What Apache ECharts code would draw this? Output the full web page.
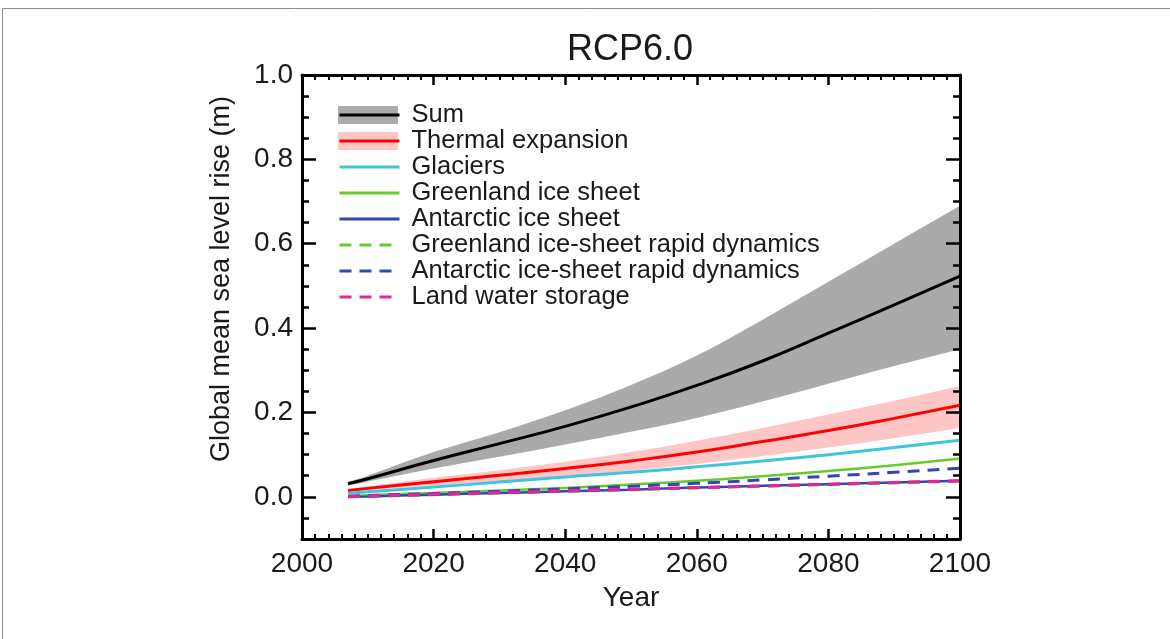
<!DOCTYPE html>
<html>
<head>
<meta charset="utf-8">
<script src="https://cdn.jsdelivr.net/npm/echarts@6/dist/echarts.min.js"></script>
<style>
  html, body { margin: 0; padding: 0; background: #fff; }
  #chart { width: 1170px; height: 639px; }
</style>
</head>
<body>
<div id="chart"></div>
<script>
// ---- data ----
const years = [2007, 2010, 2020, 2030, 2040, 2050, 2060, 2070, 2080, 2090, 2100];
const sumMid = [0.031, 0.043, 0.086, 0.126, 0.167, 0.213, 0.264, 0.322, 0.388, 0.455, 0.523];
const sumHigh = [0.036, 0.050, 0.106, 0.153, 0.205, 0.265, 0.335, 0.420, 0.510, 0.600, 0.690];
const sumLow = [0.027, 0.036, 0.067, 0.095, 0.124, 0.154, 0.187, 0.226, 0.268, 0.310, 0.350];
const thermalMid = [0.015, 0.020, 0.036, 0.051, 0.067, 0.085, 0.106, 0.131, 0.157, 0.186, 0.217];
const thermalHigh = [0.018, 0.025, 0.045, 0.063, 0.083, 0.106, 0.133, 0.163, 0.195, 0.228, 0.263];
const thermalLow = [0.012, 0.016, 0.027, 0.037, 0.049, 0.062, 0.078, 0.097, 0.117, 0.139, 0.163];
const glaciers = [0.008, 0.012, 0.023, 0.035, 0.047, 0.058, 0.071, 0.085, 0.100, 0.117, 0.134];
const greenlandSheet = [0.002, 0.004, 0.009, 0.015, 0.021, 0.029, 0.038, 0.049, 0.061, 0.075, 0.091];
const antarcticSheet = [0.000, 0.001, 0.005, 0.009, 0.013, 0.017, 0.022, 0.026, 0.030, 0.034, 0.038];
const greenlandDyn = [0.000, 0.001, 0.005, 0.009, 0.013, 0.017, 0.021, 0.025, 0.029, 0.033, 0.037];
const antarcticDyn = [0.001, 0.003, 0.008, 0.013, 0.019, 0.025, 0.032, 0.040, 0.049, 0.058, 0.068];
const landWater = [0.000, 0.002, 0.006, 0.010, 0.014, 0.018, 0.022, 0.026, 0.030, 0.034, 0.038];
const yMajorTicks = [0.0, 0.2, 0.4, 0.6, 0.8, 1.0];
const legendNames = ['Sum', 'Thermal expansion', 'Glaciers', 'Greenland ice sheet', 'Antarctic ice sheet',
  'Greenland ice-sheet rapid dynamics', 'Antarctic ice-sheet rapid dynamics', 'Land water storage'];

// ---- helpers ----
const FONT = "'Liberation Sans', Arial, Helvetica, sans-serif";
const TXT = '#1a1a1a';
const pairs = arr => years.map((y, i) => [y, arr[i]]);

function lineSeries(name, arr, color, width, dashed) {
  return {
    name, type: 'line', data: pairs(arr), smooth: true, showSymbol: false, symbol: 'none',
    color: color,
    itemStyle: { color },
    lineStyle: { color, width, type: dashed ? [12, 8] : 'solid' },
    emphasis: { disabled: true }, silent: true
  };
}

// smooth curve through pixel points (Catmull-Rom rendered as cubic Beziers)
function curvePath(pts, moveFirst) {
  let d = (moveFirst ? 'M' : 'L') + pts[0][0] + ' ' + pts[0][1];
  for (let i = 0; i < pts.length - 1; i++) {
    const p0 = pts[Math.max(i - 1, 0)], p1 = pts[i], p2 = pts[i + 1], p3 = pts[Math.min(i + 2, pts.length - 1)];
    const c1 = [p1[0] + (p2[0] - p0[0]) / 6, p1[1] + (p2[1] - p0[1]) / 6];
    const c2 = [p2[0] - (p3[0] - p1[0]) / 6, p2[1] - (p3[1] - p1[1]) / 6];
    d += ' C' + c1[0] + ' ' + c1[1] + ' ' + c2[0] + ' ' + c2[1] + ' ' + p2[0] + ' ' + p2[1];
  }
  return d;
}

function bandSeries(name, high, low, color) {
  return {
    name, type: 'custom', silent: true,
    color: color, itemStyle: { color },
    data: years.map((y, i) => [y, low[i], high[i]]),
    encode: { x: 0, y: [1, 2] },
    renderItem: function (params, api) {
      if (params.dataIndex !== 0) return null;
      const top = years.map((y, i) => api.coord([y, high[i]]));
      const bottom = years.map((y, i) => api.coord([y, low[i]])).reverse();
      const d = curvePath(top, true) + ' ' + curvePath(bottom, false) + ' Z';
      return {
        type: 'path',
        shape: { pathData: d },
        style: { fill: color, stroke: null }
      };
    }
  };
}

const xBase = {
  type: 'value', min: 2000, max: 2100, interval: 20, gridIndex: 0, z: 6,
  axisLine: { show: true, onZero: false, lineStyle: { color: '#000', width: 3 } },
  axisTick: { show: true, inside: true, length: 10, lineStyle: { color: '#000', width: 2.5 } },
  minorTick: { show: true, splitNumber: 10, length: 5, lineStyle: { color: '#000', width: 2 } },
  splitLine: { show: false }, minorSplitLine: { show: false }
};
const yBase = {
  type: 'value', min: -0.1, max: 1.0, gridIndex: 0, z: 6,
  splitLine: { show: false }
};

const option = {
  animation: false,
  backgroundColor: '#fff',
  title: {
    text: 'RCP6.0', left: 562, top: 27,
    textStyle: { fontFamily: FONT, fontSize: 36, fontWeight: 'normal', color: TXT }
  },
  grid: { left: 302, right: 210, top: 75, bottom: 100, containLabel: false },
  xAxis: [
    Object.assign({}, xBase, {
      position: 'bottom',
      name: 'Year', nameLocation: 'middle', nameGap: 45,
      nameTextStyle: { fontFamily: FONT, fontSize: 28, color: TXT },
      axisLabel: { show: true, margin: 11, fontFamily: FONT, fontSize: 28, color: TXT,
        formatter: v => String(Math.round(v)) }
    }),
    Object.assign({}, xBase, { position: 'top', axisLabel: { show: false } })
  ],
  yAxis: [
    Object.assign({}, yBase, {
      position: 'left', interval: 0.05,
      name: 'Global mean sea level rise (m)', nameLocation: 'middle', nameGap: 67,
      nameTextStyle: { fontFamily: FONT, fontSize: 27, color: TXT, padding: [0, 0, 0, 56] },
      axisLine: { show: true, onZero: false, lineStyle: { color: '#000', width: 3 } },
      axisTick: { show: true, inside: true, length: 7, lineStyle: { color: '#000', width: 2.5 } },
      axisLabel: { show: true, margin: 9, fontFamily: FONT, fontSize: 28, color: TXT,
        customValues: yMajorTicks, formatter: v => v.toFixed(1) }
    }),
    Object.assign({}, yBase, {
      position: 'left',
      axisLine: { show: false },
      axisTick: { show: true, inside: true, length: 14, customValues: yMajorTicks,
        lineStyle: { color: '#000', width: 2.5 } },
      axisLabel: { show: false }
    }),
    Object.assign({}, yBase, {
      position: 'right', interval: 0.05,
      axisLine: { show: true, onZero: false, lineStyle: { color: '#000', width: 3 } },
      axisTick: { show: true, inside: true, length: 7, lineStyle: { color: '#000', width: 2.5 } },
      axisLabel: { show: false }
    }),
    Object.assign({}, yBase, {
      position: 'right',
      axisLine: { show: false },
      axisTick: { show: true, inside: true, length: 14, customValues: yMajorTicks,
        lineStyle: { color: '#000', width: 2.5 } },
      axisLabel: { show: false }
    })
  ],
  legend: [
    {
      z: 3,
      data: ['Sum range', 'Thermal expansion range'],
      orient: 'vertical', left: 338, top: 102, padding: 0, itemGap: 0,
      itemWidth: 60, itemHeight: 18, icon: 'rect',
      selectedMode: false,
      formatter: () => ' ',
      textStyle: { fontFamily: FONT, fontSize: 25.5, lineHeight: 26, color: TXT }
    },
    {
      z: 4,
      data: legendNames,
      orient: 'vertical', left: 338, top: 102, padding: 0, itemGap: 0,
      itemWidth: 60, itemHeight: 14,
      selectedMode: false,
      itemStyle: { opacity: 0 },
      lineStyle: { width: 3 },
      textStyle: { fontFamily: FONT, fontSize: 25.5, lineHeight: 26, color: TXT, padding: [0, 0, 0, 7] }
    }
  ],
  graphic: [
    { type: 'rect', silent: true, z: 100,
      shape: { x: 2.5, y: 8.5, width: 1200, height: 700 },
      style: { fill: 'none', stroke: '#8c8c8c', lineWidth: 1 } }
  ],
  series: [
    bandSeries('Sum range', sumHigh, sumLow, '#aaaaaa'),
    bandSeries('Thermal expansion range', thermalHigh, thermalLow, '#ffc6c6'),
    lineSeries('Sum', sumMid, '#000000', 3, false),
    lineSeries('Thermal expansion', thermalMid, '#ff0000', 3, false),
    lineSeries('Glaciers', glaciers, '#3ec6dc', 3, false),
    lineSeries('Greenland ice sheet', greenlandSheet, '#66cc2e', 2.5, false),
    lineSeries('Greenland ice-sheet rapid dynamics', greenlandDyn, '#66cc2e', 3, true),
    lineSeries('Antarctic ice sheet', antarcticSheet, '#3446b0', 2.5, false),
    lineSeries('Antarctic ice-sheet rapid dynamics', antarcticDyn, '#3446b0', 3, true),
    lineSeries('Land water storage', landWater, '#e8229c', 3, true)
  ]
};

const chart = echarts.init(document.getElementById('chart'), null, { renderer: 'canvas' });
chart.setOption(option);
</script>
</body>
</html>
